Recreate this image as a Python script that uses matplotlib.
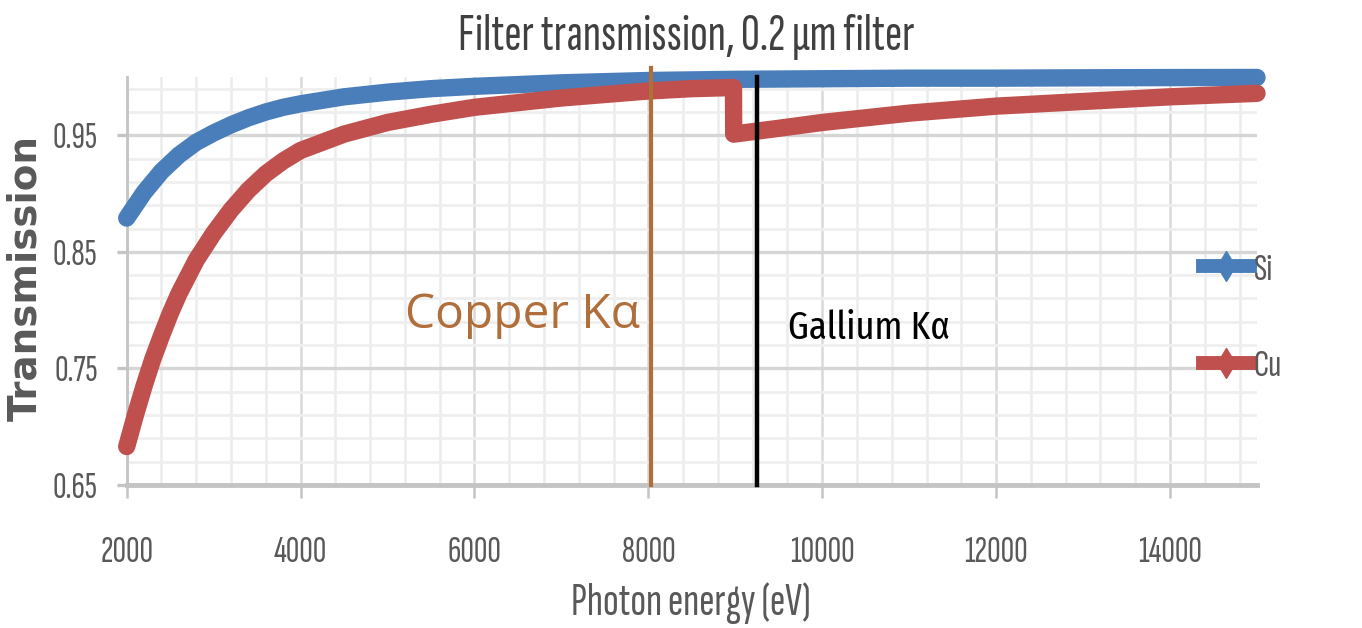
import matplotlib
matplotlib.use("Agg")
import matplotlib.pyplot as plt
from matplotlib.ticker import FixedLocator
from matplotlib.lines import Line2D
import numpy as np

# ---- data ----
energy_si = [2000, 2200, 2400, 2600, 2800, 3000, 3200, 3400, 3600, 3800, 4000, 4500,
             5000, 5500, 6000, 6500, 7000, 7500, 8000, 9000, 10000, 11000, 12000,
             13000, 14000, 15000]
trans_si = [0.879, 0.901, 0.919, 0.933, 0.944, 0.952, 0.959, 0.965, 0.970, 0.974,
            0.977, 0.983, 0.987, 0.990, 0.992, 0.9935, 0.995, 0.996, 0.997, 0.998,
            0.9985, 0.999, 0.999, 0.9993, 0.9995, 0.9996]

energy_cu = [2000, 2100, 2200, 2300, 2400, 2500, 2600, 2800, 3000, 3200, 3400, 3600,
             3800, 4000, 4500, 5000, 5500, 6000, 6500, 7000, 7500, 8000, 8500, 8979,
             8981, 9500, 10000, 10500, 11000, 12000, 13000, 14000, 15000]
trans_cu = [0.683, 0.710, 0.735, 0.758, 0.778, 0.797, 0.814, 0.843, 0.866, 0.886,
            0.903, 0.917, 0.928, 0.937, 0.951, 0.961, 0.968, 0.974, 0.978, 0.982,
            0.985, 0.988, 0.990, 0.991, 0.951, 0.956, 0.961, 0.965, 0.969, 0.975,
            0.979, 0.983, 0.986]

series_labels = ["Si", "Cu"]
line_energies = [8030, 9250]          # Copper K-alpha, Gallium K-alpha
line_labels = ["Copper K\u03b1", "Gallium K\u03b1"]

x_ticks = [2000, 4000, 6000, 8000, 10000, 12000, 14000]
y_ticks = [0.65, 0.75, 0.85, 0.95]
y_tick_labels = ["0.65", "0.75", "0.85", "0.95"]

title = "Filter transmission, 0.2 \u00b5m filter"
xlabel = "Photon energy (eV)"
ylabel = "Transmission"

# ---- style ----
BLUE = "#4a7ebb"
RED = "#c0504d"
COPPER = "#b06e3a"
TXT = "#595959"
NARROW = ["Sofia Sans Extra Condensed", "Fira Sans Extra Condensed", "DejaVu Sans"]
NARROW2 = ["Fira Sans Extra Condensed", "Sofia Sans Extra Condensed", "DejaVu Sans"]

W, H = 1362, 628
fig = plt.figure(figsize=(W / 100, H / 100), dpi=100)
x0, x1, yt, yb = 126.7, 1257, 77, 485
ax = fig.add_axes([x0 / W, 1 - yb / H, (x1 - x0) / W, (yb - yt) / H])

ax.set_xlim(2000, 15000)
ax.set_ylim(0.65, 1.0)

ax.set_xticks(x_ticks)
ax.set_xticklabels([str(v) for v in x_ticks])
ax.set_yticks(y_ticks)
ax.set_yticklabels(y_tick_labels)
ax.xaxis.set_minor_locator(FixedLocator(np.arange(2000, 15000, 400)))
ax.yaxis.set_minor_locator(FixedLocator(np.arange(0.65, 1.0, 0.02)))

ax.set_axisbelow(True)
ax.yaxis.grid(True, which="major", color="#d6d6d6", lw=2.4)
ax.yaxis.grid(True, which="minor", color="#efefef", lw=2.0)
ax.xaxis.grid(True, which="major", color="#d9d9d9", lw=1.8)
ax.xaxis.grid(True, which="minor", color="#ececec", lw=1.8)

for s in ("top", "right"):
    ax.spines[s].set_visible(False)
ax.spines["left"].set_color("#c4c4c4")
ax.spines["left"].set_linewidth(2)
ax.spines["bottom"].set_color("#c4c4c4")
ax.spines["bottom"].set_linewidth(3.5)

ax.tick_params(axis="both", which="minor", length=0)
ax.tick_params(axis="x", which="major", length=9, width=1.8, color="#c4c4c4",
               pad=28, labelcolor=TXT, labelsize=27)
ax.tick_params(axis="y", which="major", length=7, width=2.4, color="#c4c4c4",
               pad=14, labelcolor=TXT, labelsize=27)
for lab in ax.get_xticklabels() + ax.get_yticklabels():
    lab.set_family(NARROW)

# ---- series ----
ax.plot(energy_si, trans_si, color=BLUE, lw=12.5, solid_capstyle="round",
        solid_joinstyle="round", clip_on=False, zorder=3)
ax.plot(energy_cu, trans_cu, color=RED, lw=12.5, solid_capstyle="round",
        solid_joinstyle="round", clip_on=False, zorder=4)

# ---- emission lines ----
ax.axvline(line_energies[0], ymin=0, ymax=1.022, color=COPPER, lw=3, clip_on=False, zorder=5)
ax.axvline(line_energies[1], ymin=0, ymax=1.0, color="black", lw=3.2, clip_on=False, zorder=5)

ax.text(7899, 0.7957, line_labels[0], color=COPPER, fontsize=34.5,
        family=["Open Sans", "DejaVu Sans"], ha="right", va="center", zorder=6)
ax.text(9609, 0.785, line_labels[1], color="black", fontsize=28.5,
        family=NARROW2, ha="left", va="center", zorder=6)

# ---- titles ----
fig.text(686 / W, 1 - 37 / H, title, color="#404040", fontsize=37.5, family=NARROW,
         ha="center", va="center")
fig.text(691 / W, 1 - 603 / H, xlabel, color=TXT, fontsize=33.5, family=NARROW,
         ha="center", va="center")
fig.text(25 / W, 1 - 278 / H, ylabel, color=TXT, fontsize=28, family="DejaVu Sans",
         fontweight="bold", rotation=90, ha="center", va="center")

# ---- legend ----
handles = [Line2D([0], [0], color=BLUE, lw=10, marker="d", ms=15, mec=BLUE),
           Line2D([0], [0], color=RED, lw=10, marker="d", ms=15, mec=RED)]
leg = ax.legend(handles, series_labels, loc="center left",
                bbox_to_anchor=(1203 / W, 1 - 318 / H), bbox_transform=fig.transFigure,
                frameon=False, handlelength=1.2, handletextpad=0.1,
                labelspacing=1.6, borderpad=0, borderaxespad=0,
                prop={"family": NARROW, "size": 28})
for t in leg.get_texts():
    t.set_color(TXT)

fig.savefig("out.png", dpi=100)
